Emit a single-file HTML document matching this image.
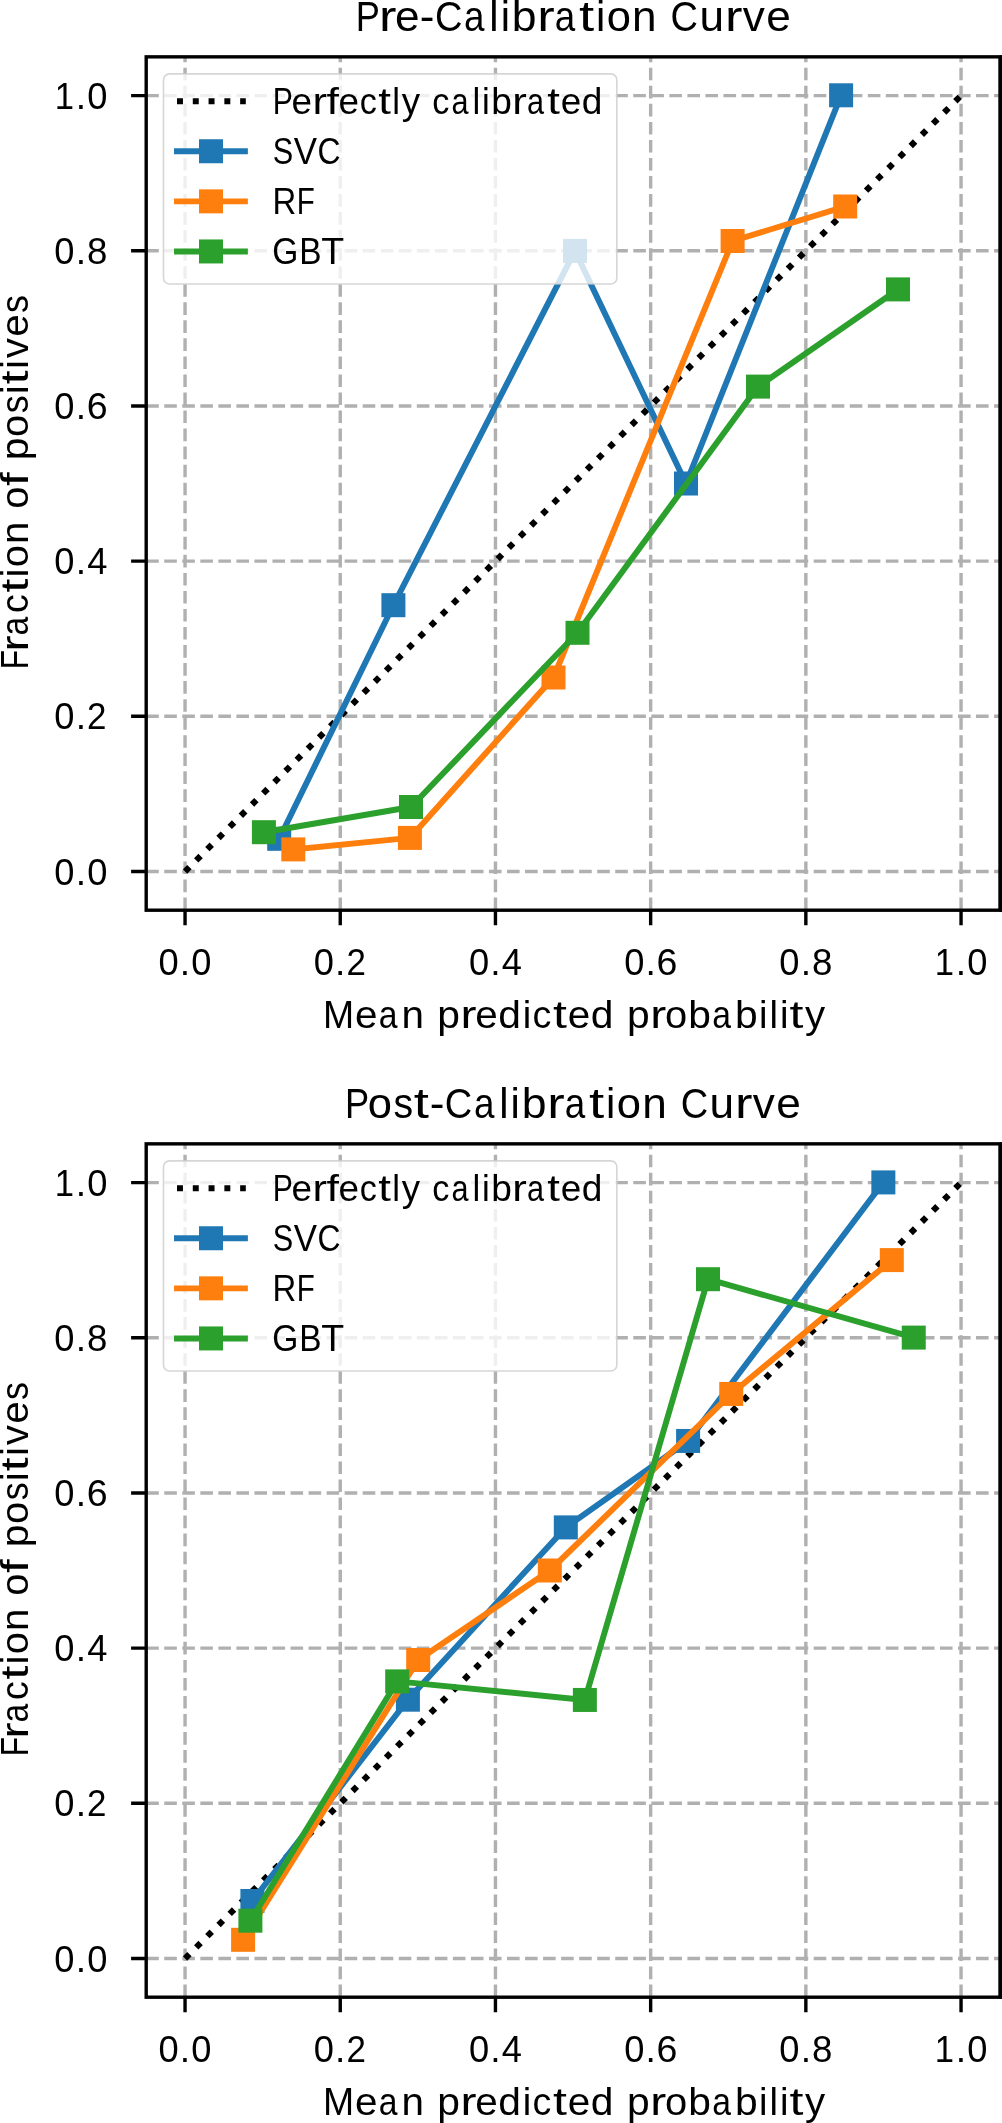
<!DOCTYPE html>
<html><head><meta charset="utf-8"><title>Calibration Curves</title>
<style>
html,body{margin:0;padding:0;background:#fff;}
svg{display:block;will-change:transform;}
text{font-family:"Liberation Sans", sans-serif;font-kerning:none;}
</style></head>
<body>
<svg width="1002" height="2123" viewBox="0 0 1002 2123">
<rect width="1002" height="2123" fill="#fff"/>
<g stroke="#b0b0b0" stroke-width="3.4" stroke-dasharray="12.6 5.44" fill="none">
<path d="M185.05 910.20V56.85"/>
<path d="M146.20 871.50H1000.00"/>
<path d="M340.25 910.20V56.85"/>
<path d="M146.20 716.32H1000.00"/>
<path d="M495.45 910.20V56.85"/>
<path d="M146.20 561.14H1000.00"/>
<path d="M650.65 910.20V56.85"/>
<path d="M146.20 405.96H1000.00"/>
<path d="M805.85 910.20V56.85"/>
<path d="M146.20 250.78H1000.00"/>
<path d="M961.05 910.20V56.85"/>
<path d="M146.20 95.60H1000.00"/>
</g>
<path d="M185.05 871.50L961.05 95.60" stroke="#000" stroke-width="6.2" stroke-dasharray="6.2 9.587" fill="none"/>
<path d="M279.20 838.80L393.40 605.20L575.00 250.90L686.00 483.50L841.10 95.30" stroke="#1f77b4" stroke-width="5.94" stroke-linejoin="round" stroke-linecap="square" fill="none"/>
<rect x="267.20" y="826.80" width="24" height="24" fill="#1f77b4"/>
<rect x="381.40" y="593.20" width="24" height="24" fill="#1f77b4"/>
<rect x="563.00" y="238.90" width="24" height="24" fill="#1f77b4"/>
<rect x="674.00" y="471.50" width="24" height="24" fill="#1f77b4"/>
<rect x="829.10" y="83.30" width="24" height="24" fill="#1f77b4"/>
<path d="M293.30 849.40L409.90 837.90L553.50 677.50L732.60 241.00L845.20 206.50" stroke="#ff7f0e" stroke-width="5.94" stroke-linejoin="round" stroke-linecap="square" fill="none"/>
<rect x="281.30" y="837.40" width="24" height="24" fill="#ff7f0e"/>
<rect x="397.90" y="825.90" width="24" height="24" fill="#ff7f0e"/>
<rect x="541.50" y="665.50" width="24" height="24" fill="#ff7f0e"/>
<rect x="720.60" y="229.00" width="24" height="24" fill="#ff7f0e"/>
<rect x="833.20" y="194.50" width="24" height="24" fill="#ff7f0e"/>
<path d="M263.90 832.20L411.00 807.00L577.50 632.80L758.00 386.60L898.00 289.40" stroke="#2ca02c" stroke-width="5.94" stroke-linejoin="round" stroke-linecap="square" fill="none"/>
<rect x="251.90" y="820.20" width="24" height="24" fill="#2ca02c"/>
<rect x="399.00" y="795.00" width="24" height="24" fill="#2ca02c"/>
<rect x="565.50" y="620.80" width="24" height="24" fill="#2ca02c"/>
<rect x="746.00" y="374.60" width="24" height="24" fill="#2ca02c"/>
<rect x="886.00" y="277.40" width="24" height="24" fill="#2ca02c"/>
<rect x="146.20" y="56.85" width="853.80" height="853.35" fill="none" stroke="#000" stroke-width="3.4" stroke-linejoin="miter"/>
<rect x="999.6" y="55.15" width="3" height="856.75" fill="#000"/>
<path d="M185.05 910.20V925.30M146.20 871.50H131.10M340.25 910.20V925.30M146.20 716.32H131.10M495.45 910.20V925.30M146.20 561.14H131.10M650.65 910.20V925.30M146.20 405.96H131.10M805.85 910.20V925.30M146.20 250.78H131.10M961.05 910.20V925.30M146.20 95.60H131.10" stroke="#000" stroke-width="3.4" fill="none"/>
<g fill="#000">
<text y="884.50" font-size="36.45"><tspan x="54.34" textLength="20.17" lengthAdjust="spacingAndGlyphs">0</tspan><tspan x="75.66" textLength="10.34" lengthAdjust="spacingAndGlyphs">.</tspan><tspan x="87.16" textLength="20.17" lengthAdjust="spacingAndGlyphs">0</tspan></text>
<text y="975.10" font-size="36.45"><tspan x="158.55" textLength="20.17" lengthAdjust="spacingAndGlyphs">0</tspan><tspan x="179.86" textLength="10.34" lengthAdjust="spacingAndGlyphs">.</tspan><tspan x="191.37" textLength="20.17" lengthAdjust="spacingAndGlyphs">0</tspan></text>
<text y="729.32" font-size="36.45"><tspan x="54.34" textLength="20.17" lengthAdjust="spacingAndGlyphs">0</tspan><tspan x="75.66" textLength="10.34" lengthAdjust="spacingAndGlyphs">.</tspan><tspan x="87.08" textLength="19.44" lengthAdjust="spacingAndGlyphs">2</tspan></text>
<text y="975.10" font-size="36.45"><tspan x="313.75" textLength="20.17" lengthAdjust="spacingAndGlyphs">0</tspan><tspan x="335.06" textLength="10.34" lengthAdjust="spacingAndGlyphs">.</tspan><tspan x="346.48" textLength="19.44" lengthAdjust="spacingAndGlyphs">2</tspan></text>
<text y="574.14" font-size="36.45"><tspan x="54.34" textLength="20.17" lengthAdjust="spacingAndGlyphs">0</tspan><tspan x="75.66" textLength="10.34" lengthAdjust="spacingAndGlyphs">.</tspan><tspan x="87.16" textLength="20.17" lengthAdjust="spacingAndGlyphs">4</tspan></text>
<text y="975.10" font-size="36.45"><tspan x="468.95" textLength="20.17" lengthAdjust="spacingAndGlyphs">0</tspan><tspan x="490.26" textLength="10.34" lengthAdjust="spacingAndGlyphs">.</tspan><tspan x="501.76" textLength="20.17" lengthAdjust="spacingAndGlyphs">4</tspan></text>
<text y="418.96" font-size="36.45"><tspan x="54.34" textLength="20.17" lengthAdjust="spacingAndGlyphs">0</tspan><tspan x="75.66" textLength="10.34" lengthAdjust="spacingAndGlyphs">.</tspan><tspan x="86.81" textLength="20.87" lengthAdjust="spacingAndGlyphs">6</tspan></text>
<text y="975.10" font-size="36.45"><tspan x="624.15" textLength="20.17" lengthAdjust="spacingAndGlyphs">0</tspan><tspan x="645.46" textLength="10.34" lengthAdjust="spacingAndGlyphs">.</tspan><tspan x="656.61" textLength="20.87" lengthAdjust="spacingAndGlyphs">6</tspan></text>
<text y="263.78" font-size="36.45"><tspan x="54.34" textLength="20.17" lengthAdjust="spacingAndGlyphs">0</tspan><tspan x="75.66" textLength="10.34" lengthAdjust="spacingAndGlyphs">.</tspan><tspan x="87.06" textLength="20.39" lengthAdjust="spacingAndGlyphs">8</tspan></text>
<text y="975.10" font-size="36.45"><tspan x="779.35" textLength="20.17" lengthAdjust="spacingAndGlyphs">0</tspan><tspan x="800.66" textLength="10.34" lengthAdjust="spacingAndGlyphs">.</tspan><tspan x="812.06" textLength="20.39" lengthAdjust="spacingAndGlyphs">8</tspan></text>
<text y="108.60" font-size="36.45"><tspan x="54.63" textLength="19.26" lengthAdjust="spacingAndGlyphs">1</tspan><tspan x="75.66" textLength="10.34" lengthAdjust="spacingAndGlyphs">.</tspan><tspan x="87.16" textLength="20.17" lengthAdjust="spacingAndGlyphs">0</tspan></text>
<text y="975.10" font-size="36.45"><tspan x="934.84" textLength="19.26" lengthAdjust="spacingAndGlyphs">1</tspan><tspan x="955.86" textLength="10.34" lengthAdjust="spacingAndGlyphs">.</tspan><tspan x="967.37" textLength="20.17" lengthAdjust="spacingAndGlyphs">0</tspan></text>
<text y="31.10" font-size="43.23"><tspan x="355.83" textLength="24.14" lengthAdjust="spacingAndGlyphs">P</tspan><tspan x="378.98" textLength="17.46" lengthAdjust="spacingAndGlyphs">r</tspan><tspan x="395.05" textLength="24.58" lengthAdjust="spacingAndGlyphs">e</tspan><tspan x="419.88" textLength="14.69" lengthAdjust="spacingAndGlyphs">-</tspan><tspan x="434.97" textLength="27.43" lengthAdjust="spacingAndGlyphs">C</tspan><tspan x="464.07" textLength="20.46" lengthAdjust="spacingAndGlyphs">a</tspan><tspan x="489.29" textLength="9.29" lengthAdjust="spacingAndGlyphs">l</tspan><tspan x="500.68" textLength="9.29" lengthAdjust="spacingAndGlyphs">i</tspan><tspan x="511.84" textLength="24.76" lengthAdjust="spacingAndGlyphs">b</tspan><tspan x="537.20" textLength="17.46" lengthAdjust="spacingAndGlyphs">r</tspan><tspan x="554.68" textLength="20.46" lengthAdjust="spacingAndGlyphs">a</tspan><tspan x="579.14" textLength="15.19" lengthAdjust="spacingAndGlyphs">t</tspan><tspan x="595.97" textLength="9.29" lengthAdjust="spacingAndGlyphs">i</tspan><tspan x="606.71" textLength="24.19" lengthAdjust="spacingAndGlyphs">o</tspan><tspan x="632.10" textLength="24.54" lengthAdjust="spacingAndGlyphs">n</tspan> <tspan x="670.62" textLength="27.43" lengthAdjust="spacingAndGlyphs">C</tspan><tspan x="699.44" textLength="24.54" lengthAdjust="spacingAndGlyphs">u</tspan><tspan x="725.00" textLength="17.46" lengthAdjust="spacingAndGlyphs">r</tspan><tspan x="742.65" textLength="22.08" lengthAdjust="spacingAndGlyphs">v</tspan><tspan x="766.18" textLength="24.58" lengthAdjust="spacingAndGlyphs">e</tspan></text>
<text y="1028.40" font-size="39.27"><tspan x="323.03" textLength="31.14" lengthAdjust="spacingAndGlyphs">M</tspan><tspan x="355.11" textLength="22.52" lengthAdjust="spacingAndGlyphs">e</tspan><tspan x="378.65" textLength="18.75" lengthAdjust="spacingAndGlyphs">a</tspan><tspan x="401.52" textLength="22.48" lengthAdjust="spacingAndGlyphs">n</tspan> <tspan x="437.25" textLength="22.68" lengthAdjust="spacingAndGlyphs">p</tspan><tspan x="460.48" textLength="15.99" lengthAdjust="spacingAndGlyphs">r</tspan><tspan x="475.20" textLength="22.52" lengthAdjust="spacingAndGlyphs">e</tspan><tspan x="498.28" textLength="22.66" lengthAdjust="spacingAndGlyphs">d</tspan><tspan x="522.68" textLength="8.51" lengthAdjust="spacingAndGlyphs">i</tspan><tspan x="532.60" textLength="18.81" lengthAdjust="spacingAndGlyphs">c</tspan><tspan x="552.99" textLength="13.92" lengthAdjust="spacingAndGlyphs">t</tspan><tspan x="567.78" textLength="22.52" lengthAdjust="spacingAndGlyphs">e</tspan><tspan x="590.86" textLength="22.66" lengthAdjust="spacingAndGlyphs">d</tspan> <tspan x="626.99" textLength="22.68" lengthAdjust="spacingAndGlyphs">p</tspan><tspan x="650.22" textLength="15.99" lengthAdjust="spacingAndGlyphs">r</tspan><tspan x="664.99" textLength="22.16" lengthAdjust="spacingAndGlyphs">o</tspan><tspan x="688.30" textLength="22.68" lengthAdjust="spacingAndGlyphs">b</tspan><tspan x="712.14" textLength="18.75" lengthAdjust="spacingAndGlyphs">a</tspan><tspan x="735.07" textLength="22.68" lengthAdjust="spacingAndGlyphs">b</tspan><tspan x="759.06" textLength="8.51" lengthAdjust="spacingAndGlyphs">i</tspan><tspan x="769.46" textLength="8.51" lengthAdjust="spacingAndGlyphs">l</tspan><tspan x="779.89" textLength="8.51" lengthAdjust="spacingAndGlyphs">i</tspan><tspan x="789.58" textLength="13.92" lengthAdjust="spacingAndGlyphs">t</tspan><tspan x="805.05" textLength="20.13" lengthAdjust="spacingAndGlyphs">y</tspan></text>
<g transform="translate(28.2 666.90) rotate(-90)"><text y="0.00" font-size="39.27"><tspan x="-2.63" textLength="19.62" lengthAdjust="spacingAndGlyphs">F</tspan><tspan x="15.36" textLength="15.99" lengthAdjust="spacingAndGlyphs">r</tspan><tspan x="31.37" textLength="18.74" lengthAdjust="spacingAndGlyphs">a</tspan><tspan x="53.99" textLength="18.80" lengthAdjust="spacingAndGlyphs">c</tspan><tspan x="74.37" textLength="13.91" lengthAdjust="spacingAndGlyphs">t</tspan><tspan x="89.78" textLength="8.51" lengthAdjust="spacingAndGlyphs">i</tspan><tspan x="99.62" textLength="22.15" lengthAdjust="spacingAndGlyphs">o</tspan><tspan x="122.87" textLength="22.47" lengthAdjust="spacingAndGlyphs">n</tspan> <tspan x="158.20" textLength="22.15" lengthAdjust="spacingAndGlyphs">o</tspan><tspan x="180.89" textLength="13.67" lengthAdjust="spacingAndGlyphs">f</tspan> <tspan x="206.61" textLength="22.67" lengthAdjust="spacingAndGlyphs">p</tspan><tspan x="230.01" textLength="22.15" lengthAdjust="spacingAndGlyphs">o</tspan><tspan x="253.57" textLength="17.96" lengthAdjust="spacingAndGlyphs">s</tspan><tspan x="273.03" textLength="8.51" lengthAdjust="spacingAndGlyphs">i</tspan><tspan x="282.72" textLength="13.91" lengthAdjust="spacingAndGlyphs">t</tspan><tspan x="298.14" textLength="8.51" lengthAdjust="spacingAndGlyphs">i</tspan><tspan x="308.56" textLength="20.22" lengthAdjust="spacingAndGlyphs">v</tspan><tspan x="330.10" textLength="22.51" lengthAdjust="spacingAndGlyphs">e</tspan><tspan x="353.84" textLength="17.96" lengthAdjust="spacingAndGlyphs">s</tspan></text></g>
</g>
<rect x="163.5" y="73.90" width="453.35" height="210.10" rx="6" ry="6" fill="#fff" fill-opacity="0.8" stroke="#cccccc" stroke-opacity="0.8" stroke-width="1.6"/>
<path d="M177 101.15H245.8" stroke="#000" stroke-width="5.96" stroke-dasharray="5.96 9.827" fill="none"/>
<text y="113.75" font-size="36.12" fill="#000"><tspan x="272.80" textLength="20.12" lengthAdjust="spacingAndGlyphs">P</tspan><tspan x="291.60" textLength="20.49" lengthAdjust="spacingAndGlyphs">e</tspan><tspan x="312.46" textLength="14.55" lengthAdjust="spacingAndGlyphs">r</tspan><tspan x="326.44" textLength="12.44" lengthAdjust="spacingAndGlyphs">f</tspan><tspan x="338.61" textLength="20.49" lengthAdjust="spacingAndGlyphs">e</tspan><tspan x="359.71" textLength="17.11" lengthAdjust="spacingAndGlyphs">c</tspan><tspan x="378.26" textLength="12.67" lengthAdjust="spacingAndGlyphs">t</tspan><tspan x="392.27" textLength="7.75" lengthAdjust="spacingAndGlyphs">l</tspan><tspan x="401.81" textLength="18.31" lengthAdjust="spacingAndGlyphs">y</tspan> <tspan x="432.34" textLength="17.11" lengthAdjust="spacingAndGlyphs">c</tspan><tspan x="451.41" textLength="17.06" lengthAdjust="spacingAndGlyphs">a</tspan><tspan x="472.43" textLength="7.75" lengthAdjust="spacingAndGlyphs">l</tspan><tspan x="481.92" textLength="7.75" lengthAdjust="spacingAndGlyphs">i</tspan><tspan x="491.22" textLength="20.64" lengthAdjust="spacingAndGlyphs">b</tspan><tspan x="512.36" textLength="14.55" lengthAdjust="spacingAndGlyphs">r</tspan><tspan x="526.93" textLength="17.06" lengthAdjust="spacingAndGlyphs">a</tspan><tspan x="547.32" textLength="12.67" lengthAdjust="spacingAndGlyphs">t</tspan><tspan x="560.78" textLength="20.49" lengthAdjust="spacingAndGlyphs">e</tspan><tspan x="581.77" textLength="20.62" lengthAdjust="spacingAndGlyphs">d</tspan></text>
<path d="M177 151.25H244.9" stroke="#1f77b4" stroke-width="5.94" stroke-linecap="square" fill="none"/>
<rect x="199.00" y="139.25" width="24" height="24" fill="#1f77b4"/>
<text y="163.85" font-size="36.12" fill="#000"><tspan x="272.78" textLength="20.45" lengthAdjust="spacingAndGlyphs">S</tspan><tspan x="293.85" textLength="23.28" lengthAdjust="spacingAndGlyphs">V</tspan><tspan x="317.58" textLength="23.06" lengthAdjust="spacingAndGlyphs">C</tspan></text>
<path d="M177 201.35H244.9" stroke="#ff7f0e" stroke-width="5.94" stroke-linecap="square" fill="none"/>
<rect x="199.00" y="189.35" width="24" height="24" fill="#ff7f0e"/>
<text y="213.95" font-size="36.12" fill="#000"><tspan x="272.58" textLength="23.76" lengthAdjust="spacingAndGlyphs">R</tspan><tspan x="296.76" textLength="18.01" lengthAdjust="spacingAndGlyphs">F</tspan></text>
<path d="M177 251.45H244.9" stroke="#2ca02c" stroke-width="5.94" stroke-linecap="square" fill="none"/>
<rect x="199.00" y="239.45" width="24" height="24" fill="#2ca02c"/>
<text y="264.05" font-size="36.12" fill="#000"><tspan x="272.14" textLength="26.10" lengthAdjust="spacingAndGlyphs">G</tspan><tspan x="299.19" textLength="22.29" lengthAdjust="spacingAndGlyphs">B</tspan><tspan x="321.21" textLength="22.92" lengthAdjust="spacingAndGlyphs">T</tspan></text>
<g stroke="#b0b0b0" stroke-width="3.4" stroke-dasharray="12.6 5.44" fill="none">
<path d="M185.05 1997.20V1143.85"/>
<path d="M146.20 1958.50H1000.00"/>
<path d="M340.25 1997.20V1143.85"/>
<path d="M146.20 1803.32H1000.00"/>
<path d="M495.45 1997.20V1143.85"/>
<path d="M146.20 1648.14H1000.00"/>
<path d="M650.65 1997.20V1143.85"/>
<path d="M146.20 1492.96H1000.00"/>
<path d="M805.85 1997.20V1143.85"/>
<path d="M146.20 1337.78H1000.00"/>
<path d="M961.05 1997.20V1143.85"/>
<path d="M146.20 1182.60H1000.00"/>
</g>
<path d="M185.05 1958.50L961.05 1182.60" stroke="#000" stroke-width="6.2" stroke-dasharray="6.2 9.587" fill="none"/>
<path d="M252.40 1901.00L407.90 1699.70L565.80 1527.40L688.10 1440.95L883.35 1182.40" stroke="#1f77b4" stroke-width="5.94" stroke-linejoin="round" stroke-linecap="square" fill="none"/>
<rect x="240.40" y="1889.00" width="24" height="24" fill="#1f77b4"/>
<rect x="395.90" y="1687.70" width="24" height="24" fill="#1f77b4"/>
<rect x="553.80" y="1515.40" width="24" height="24" fill="#1f77b4"/>
<rect x="676.10" y="1428.95" width="24" height="24" fill="#1f77b4"/>
<rect x="871.35" y="1170.40" width="24" height="24" fill="#1f77b4"/>
<path d="M243.10 1939.80L418.20 1660.00L549.80 1570.50L731.25 1393.95L891.80 1260.10" stroke="#ff7f0e" stroke-width="5.94" stroke-linejoin="round" stroke-linecap="square" fill="none"/>
<rect x="231.10" y="1927.80" width="24" height="24" fill="#ff7f0e"/>
<rect x="406.20" y="1648.00" width="24" height="24" fill="#ff7f0e"/>
<rect x="537.80" y="1558.50" width="24" height="24" fill="#ff7f0e"/>
<rect x="719.25" y="1381.95" width="24" height="24" fill="#ff7f0e"/>
<rect x="879.80" y="1248.10" width="24" height="24" fill="#ff7f0e"/>
<path d="M250.40 1920.70L397.20 1681.40L584.85 1699.95L708.00 1279.20L913.75 1337.60" stroke="#2ca02c" stroke-width="5.94" stroke-linejoin="round" stroke-linecap="square" fill="none"/>
<rect x="238.40" y="1908.70" width="24" height="24" fill="#2ca02c"/>
<rect x="385.20" y="1669.40" width="24" height="24" fill="#2ca02c"/>
<rect x="572.85" y="1687.95" width="24" height="24" fill="#2ca02c"/>
<rect x="696.00" y="1267.20" width="24" height="24" fill="#2ca02c"/>
<rect x="901.75" y="1325.60" width="24" height="24" fill="#2ca02c"/>
<rect x="146.20" y="1143.85" width="853.80" height="853.35" fill="none" stroke="#000" stroke-width="3.4" stroke-linejoin="miter"/>
<rect x="999.6" y="1142.15" width="3" height="856.75" fill="#000"/>
<path d="M185.05 1997.20V2012.30M146.20 1958.50H131.10M340.25 1997.20V2012.30M146.20 1803.32H131.10M495.45 1997.20V2012.30M146.20 1648.14H131.10M650.65 1997.20V2012.30M146.20 1492.96H131.10M805.85 1997.20V2012.30M146.20 1337.78H131.10M961.05 1997.20V2012.30M146.20 1182.60H131.10" stroke="#000" stroke-width="3.4" fill="none"/>
<g fill="#000">
<text y="1971.50" font-size="36.45"><tspan x="54.34" textLength="20.17" lengthAdjust="spacingAndGlyphs">0</tspan><tspan x="75.66" textLength="10.34" lengthAdjust="spacingAndGlyphs">.</tspan><tspan x="87.16" textLength="20.17" lengthAdjust="spacingAndGlyphs">0</tspan></text>
<text y="2062.10" font-size="36.45"><tspan x="158.55" textLength="20.17" lengthAdjust="spacingAndGlyphs">0</tspan><tspan x="179.86" textLength="10.34" lengthAdjust="spacingAndGlyphs">.</tspan><tspan x="191.37" textLength="20.17" lengthAdjust="spacingAndGlyphs">0</tspan></text>
<text y="1816.32" font-size="36.45"><tspan x="54.34" textLength="20.17" lengthAdjust="spacingAndGlyphs">0</tspan><tspan x="75.66" textLength="10.34" lengthAdjust="spacingAndGlyphs">.</tspan><tspan x="87.08" textLength="19.44" lengthAdjust="spacingAndGlyphs">2</tspan></text>
<text y="2062.10" font-size="36.45"><tspan x="313.75" textLength="20.17" lengthAdjust="spacingAndGlyphs">0</tspan><tspan x="335.06" textLength="10.34" lengthAdjust="spacingAndGlyphs">.</tspan><tspan x="346.48" textLength="19.44" lengthAdjust="spacingAndGlyphs">2</tspan></text>
<text y="1661.14" font-size="36.45"><tspan x="54.34" textLength="20.17" lengthAdjust="spacingAndGlyphs">0</tspan><tspan x="75.66" textLength="10.34" lengthAdjust="spacingAndGlyphs">.</tspan><tspan x="87.16" textLength="20.17" lengthAdjust="spacingAndGlyphs">4</tspan></text>
<text y="2062.10" font-size="36.45"><tspan x="468.95" textLength="20.17" lengthAdjust="spacingAndGlyphs">0</tspan><tspan x="490.26" textLength="10.34" lengthAdjust="spacingAndGlyphs">.</tspan><tspan x="501.76" textLength="20.17" lengthAdjust="spacingAndGlyphs">4</tspan></text>
<text y="1505.96" font-size="36.45"><tspan x="54.34" textLength="20.17" lengthAdjust="spacingAndGlyphs">0</tspan><tspan x="75.66" textLength="10.34" lengthAdjust="spacingAndGlyphs">.</tspan><tspan x="86.81" textLength="20.87" lengthAdjust="spacingAndGlyphs">6</tspan></text>
<text y="2062.10" font-size="36.45"><tspan x="624.15" textLength="20.17" lengthAdjust="spacingAndGlyphs">0</tspan><tspan x="645.46" textLength="10.34" lengthAdjust="spacingAndGlyphs">.</tspan><tspan x="656.61" textLength="20.87" lengthAdjust="spacingAndGlyphs">6</tspan></text>
<text y="1350.78" font-size="36.45"><tspan x="54.34" textLength="20.17" lengthAdjust="spacingAndGlyphs">0</tspan><tspan x="75.66" textLength="10.34" lengthAdjust="spacingAndGlyphs">.</tspan><tspan x="87.06" textLength="20.39" lengthAdjust="spacingAndGlyphs">8</tspan></text>
<text y="2062.10" font-size="36.45"><tspan x="779.35" textLength="20.17" lengthAdjust="spacingAndGlyphs">0</tspan><tspan x="800.66" textLength="10.34" lengthAdjust="spacingAndGlyphs">.</tspan><tspan x="812.06" textLength="20.39" lengthAdjust="spacingAndGlyphs">8</tspan></text>
<text y="1195.60" font-size="36.45"><tspan x="54.63" textLength="19.26" lengthAdjust="spacingAndGlyphs">1</tspan><tspan x="75.66" textLength="10.34" lengthAdjust="spacingAndGlyphs">.</tspan><tspan x="87.16" textLength="20.17" lengthAdjust="spacingAndGlyphs">0</tspan></text>
<text y="2062.10" font-size="36.45"><tspan x="934.84" textLength="19.26" lengthAdjust="spacingAndGlyphs">1</tspan><tspan x="955.86" textLength="10.34" lengthAdjust="spacingAndGlyphs">.</tspan><tspan x="967.37" textLength="20.17" lengthAdjust="spacingAndGlyphs">0</tspan></text>
<text y="1118.10" font-size="43.23"><tspan x="345.03" textLength="24.16" lengthAdjust="spacingAndGlyphs">P</tspan><tspan x="367.65" textLength="24.22" lengthAdjust="spacingAndGlyphs">o</tspan><tspan x="393.41" textLength="19.63" lengthAdjust="spacingAndGlyphs">s</tspan><tspan x="413.89" textLength="15.21" lengthAdjust="spacingAndGlyphs">t</tspan><tspan x="429.72" textLength="14.70" lengthAdjust="spacingAndGlyphs">-</tspan><tspan x="444.83" textLength="27.46" lengthAdjust="spacingAndGlyphs">C</tspan><tspan x="473.96" textLength="20.48" lengthAdjust="spacingAndGlyphs">a</tspan><tspan x="499.20" textLength="9.30" lengthAdjust="spacingAndGlyphs">l</tspan><tspan x="510.60" textLength="9.30" lengthAdjust="spacingAndGlyphs">i</tspan><tspan x="521.77" textLength="24.78" lengthAdjust="spacingAndGlyphs">b</tspan><tspan x="547.15" textLength="17.48" lengthAdjust="spacingAndGlyphs">r</tspan><tspan x="564.66" textLength="20.48" lengthAdjust="spacingAndGlyphs">a</tspan><tspan x="589.13" textLength="15.21" lengthAdjust="spacingAndGlyphs">t</tspan><tspan x="605.98" textLength="9.30" lengthAdjust="spacingAndGlyphs">i</tspan><tspan x="616.73" textLength="24.22" lengthAdjust="spacingAndGlyphs">o</tspan><tspan x="642.15" textLength="24.56" lengthAdjust="spacingAndGlyphs">n</tspan> <tspan x="680.71" textLength="27.46" lengthAdjust="spacingAndGlyphs">C</tspan><tspan x="709.55" textLength="24.56" lengthAdjust="spacingAndGlyphs">u</tspan><tspan x="735.13" textLength="17.48" lengthAdjust="spacingAndGlyphs">r</tspan><tspan x="752.81" textLength="22.10" lengthAdjust="spacingAndGlyphs">v</tspan><tspan x="776.36" textLength="24.61" lengthAdjust="spacingAndGlyphs">e</tspan></text>
<text y="2115.40" font-size="39.27"><tspan x="323.03" textLength="31.14" lengthAdjust="spacingAndGlyphs">M</tspan><tspan x="355.11" textLength="22.52" lengthAdjust="spacingAndGlyphs">e</tspan><tspan x="378.65" textLength="18.75" lengthAdjust="spacingAndGlyphs">a</tspan><tspan x="401.52" textLength="22.48" lengthAdjust="spacingAndGlyphs">n</tspan> <tspan x="437.25" textLength="22.68" lengthAdjust="spacingAndGlyphs">p</tspan><tspan x="460.48" textLength="15.99" lengthAdjust="spacingAndGlyphs">r</tspan><tspan x="475.20" textLength="22.52" lengthAdjust="spacingAndGlyphs">e</tspan><tspan x="498.28" textLength="22.66" lengthAdjust="spacingAndGlyphs">d</tspan><tspan x="522.68" textLength="8.51" lengthAdjust="spacingAndGlyphs">i</tspan><tspan x="532.60" textLength="18.81" lengthAdjust="spacingAndGlyphs">c</tspan><tspan x="552.99" textLength="13.92" lengthAdjust="spacingAndGlyphs">t</tspan><tspan x="567.78" textLength="22.52" lengthAdjust="spacingAndGlyphs">e</tspan><tspan x="590.86" textLength="22.66" lengthAdjust="spacingAndGlyphs">d</tspan> <tspan x="626.99" textLength="22.68" lengthAdjust="spacingAndGlyphs">p</tspan><tspan x="650.22" textLength="15.99" lengthAdjust="spacingAndGlyphs">r</tspan><tspan x="664.99" textLength="22.16" lengthAdjust="spacingAndGlyphs">o</tspan><tspan x="688.30" textLength="22.68" lengthAdjust="spacingAndGlyphs">b</tspan><tspan x="712.14" textLength="18.75" lengthAdjust="spacingAndGlyphs">a</tspan><tspan x="735.07" textLength="22.68" lengthAdjust="spacingAndGlyphs">b</tspan><tspan x="759.06" textLength="8.51" lengthAdjust="spacingAndGlyphs">i</tspan><tspan x="769.46" textLength="8.51" lengthAdjust="spacingAndGlyphs">l</tspan><tspan x="779.89" textLength="8.51" lengthAdjust="spacingAndGlyphs">i</tspan><tspan x="789.58" textLength="13.92" lengthAdjust="spacingAndGlyphs">t</tspan><tspan x="805.05" textLength="20.13" lengthAdjust="spacingAndGlyphs">y</tspan></text>
<g transform="translate(28.2 1753.90) rotate(-90)"><text y="0.00" font-size="39.27"><tspan x="-2.63" textLength="19.62" lengthAdjust="spacingAndGlyphs">F</tspan><tspan x="15.36" textLength="15.99" lengthAdjust="spacingAndGlyphs">r</tspan><tspan x="31.37" textLength="18.74" lengthAdjust="spacingAndGlyphs">a</tspan><tspan x="53.99" textLength="18.80" lengthAdjust="spacingAndGlyphs">c</tspan><tspan x="74.37" textLength="13.91" lengthAdjust="spacingAndGlyphs">t</tspan><tspan x="89.78" textLength="8.51" lengthAdjust="spacingAndGlyphs">i</tspan><tspan x="99.62" textLength="22.15" lengthAdjust="spacingAndGlyphs">o</tspan><tspan x="122.87" textLength="22.47" lengthAdjust="spacingAndGlyphs">n</tspan> <tspan x="158.20" textLength="22.15" lengthAdjust="spacingAndGlyphs">o</tspan><tspan x="180.89" textLength="13.67" lengthAdjust="spacingAndGlyphs">f</tspan> <tspan x="206.61" textLength="22.67" lengthAdjust="spacingAndGlyphs">p</tspan><tspan x="230.01" textLength="22.15" lengthAdjust="spacingAndGlyphs">o</tspan><tspan x="253.57" textLength="17.96" lengthAdjust="spacingAndGlyphs">s</tspan><tspan x="273.03" textLength="8.51" lengthAdjust="spacingAndGlyphs">i</tspan><tspan x="282.72" textLength="13.91" lengthAdjust="spacingAndGlyphs">t</tspan><tspan x="298.14" textLength="8.51" lengthAdjust="spacingAndGlyphs">i</tspan><tspan x="308.56" textLength="20.22" lengthAdjust="spacingAndGlyphs">v</tspan><tspan x="330.10" textLength="22.51" lengthAdjust="spacingAndGlyphs">e</tspan><tspan x="353.84" textLength="17.96" lengthAdjust="spacingAndGlyphs">s</tspan></text></g>
</g>
<rect x="163.5" y="1160.90" width="453.35" height="210.10" rx="6" ry="6" fill="#fff" fill-opacity="0.8" stroke="#cccccc" stroke-opacity="0.8" stroke-width="1.6"/>
<path d="M177 1188.15H245.8" stroke="#000" stroke-width="5.96" stroke-dasharray="5.96 9.827" fill="none"/>
<text y="1200.75" font-size="36.12" fill="#000"><tspan x="272.80" textLength="20.12" lengthAdjust="spacingAndGlyphs">P</tspan><tspan x="291.60" textLength="20.49" lengthAdjust="spacingAndGlyphs">e</tspan><tspan x="312.46" textLength="14.55" lengthAdjust="spacingAndGlyphs">r</tspan><tspan x="326.44" textLength="12.44" lengthAdjust="spacingAndGlyphs">f</tspan><tspan x="338.61" textLength="20.49" lengthAdjust="spacingAndGlyphs">e</tspan><tspan x="359.71" textLength="17.11" lengthAdjust="spacingAndGlyphs">c</tspan><tspan x="378.26" textLength="12.67" lengthAdjust="spacingAndGlyphs">t</tspan><tspan x="392.27" textLength="7.75" lengthAdjust="spacingAndGlyphs">l</tspan><tspan x="401.81" textLength="18.31" lengthAdjust="spacingAndGlyphs">y</tspan> <tspan x="432.34" textLength="17.11" lengthAdjust="spacingAndGlyphs">c</tspan><tspan x="451.41" textLength="17.06" lengthAdjust="spacingAndGlyphs">a</tspan><tspan x="472.43" textLength="7.75" lengthAdjust="spacingAndGlyphs">l</tspan><tspan x="481.92" textLength="7.75" lengthAdjust="spacingAndGlyphs">i</tspan><tspan x="491.22" textLength="20.64" lengthAdjust="spacingAndGlyphs">b</tspan><tspan x="512.36" textLength="14.55" lengthAdjust="spacingAndGlyphs">r</tspan><tspan x="526.93" textLength="17.06" lengthAdjust="spacingAndGlyphs">a</tspan><tspan x="547.32" textLength="12.67" lengthAdjust="spacingAndGlyphs">t</tspan><tspan x="560.78" textLength="20.49" lengthAdjust="spacingAndGlyphs">e</tspan><tspan x="581.77" textLength="20.62" lengthAdjust="spacingAndGlyphs">d</tspan></text>
<path d="M177 1238.25H244.9" stroke="#1f77b4" stroke-width="5.94" stroke-linecap="square" fill="none"/>
<rect x="199.00" y="1226.25" width="24" height="24" fill="#1f77b4"/>
<text y="1250.85" font-size="36.12" fill="#000"><tspan x="272.78" textLength="20.45" lengthAdjust="spacingAndGlyphs">S</tspan><tspan x="293.85" textLength="23.28" lengthAdjust="spacingAndGlyphs">V</tspan><tspan x="317.58" textLength="23.06" lengthAdjust="spacingAndGlyphs">C</tspan></text>
<path d="M177 1288.35H244.9" stroke="#ff7f0e" stroke-width="5.94" stroke-linecap="square" fill="none"/>
<rect x="199.00" y="1276.35" width="24" height="24" fill="#ff7f0e"/>
<text y="1300.95" font-size="36.12" fill="#000"><tspan x="272.58" textLength="23.76" lengthAdjust="spacingAndGlyphs">R</tspan><tspan x="296.76" textLength="18.01" lengthAdjust="spacingAndGlyphs">F</tspan></text>
<path d="M177 1338.45H244.9" stroke="#2ca02c" stroke-width="5.94" stroke-linecap="square" fill="none"/>
<rect x="199.00" y="1326.45" width="24" height="24" fill="#2ca02c"/>
<text y="1351.05" font-size="36.12" fill="#000"><tspan x="272.14" textLength="26.10" lengthAdjust="spacingAndGlyphs">G</tspan><tspan x="299.19" textLength="22.29" lengthAdjust="spacingAndGlyphs">B</tspan><tspan x="321.21" textLength="22.92" lengthAdjust="spacingAndGlyphs">T</tspan></text>
</svg>
</body></html>
